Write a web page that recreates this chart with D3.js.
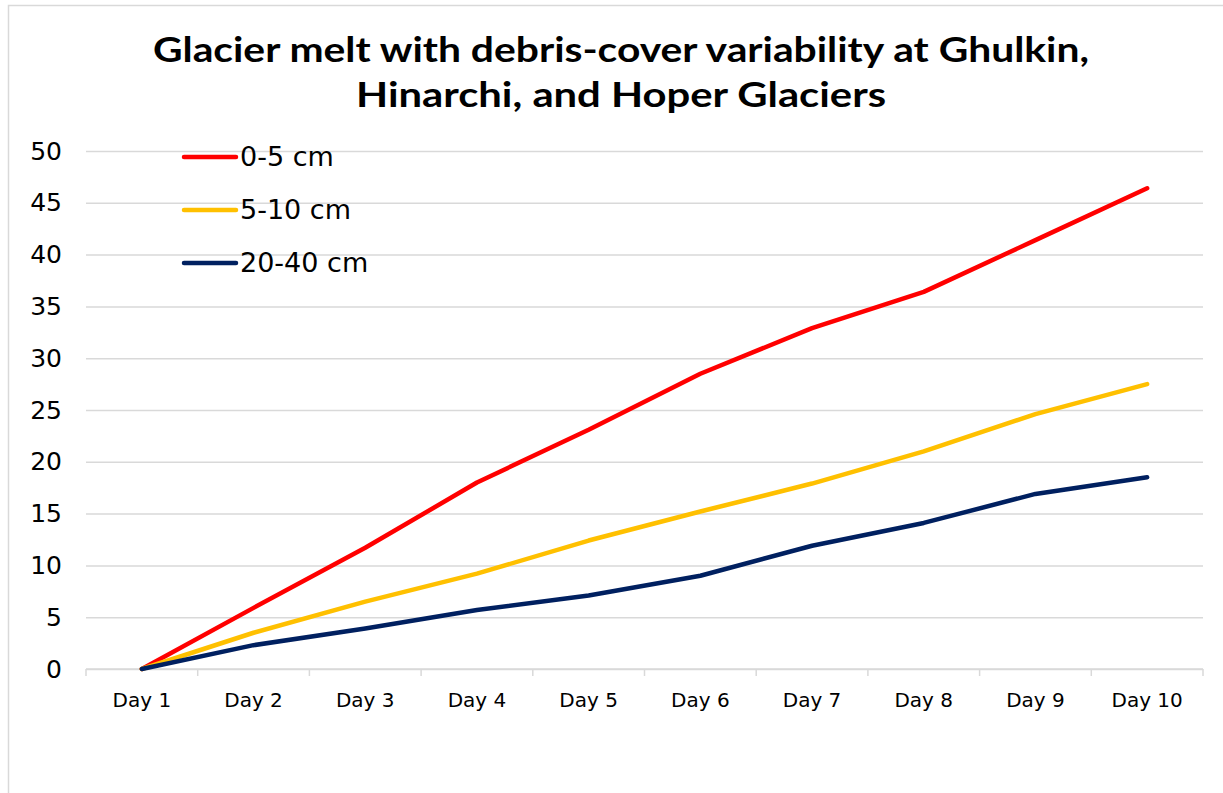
<!DOCTYPE html>
<html lang="en">
<head>
    <meta charset="UTF-8">
    <title>Glacier melt</title>
    <script src="https://d3js.org/d3.v7.min.js"></script>
    <style>
        body { margin: 0; background: #fff; }
        text { font-family: "DejaVu Sans", sans-serif; fill: #000; }
    </style>
</head>
<body>
    <div id="chart"></div>
    <script>
        // chart data
        var days = ["Day 1", "Day 2", "Day 3", "Day 4", "Day 5", "Day 6", "Day 7", "Day 8", "Day 9", "Day 10"];
        var seriesNames = ["0-5 cm", "5-10 cm", "20-40 cm"];
        var seriesColors = ["#ff0000", "#ffc000", "#002060"];
        var melt0to5 = [0, 5.9, 11.7, 18.0, 23.1, 28.5, 32.9, 36.4, 41.4, 46.4];
        var melt5to10 = [0, 3.5, 6.5, 9.2, 12.4, 15.2, 17.9, 21.0, 24.6, 27.5];
        var melt20to40 = [0, 2.3, 3.9, 5.7, 7.1, 9.0, 11.9, 14.1, 16.9, 18.5];
        var yTicks = [0, 5, 10, 15, 20, 25, 30, 35, 40, 45, 50];

        var allSeries = [melt0to5, melt5to10, melt20to40];

        var W = 1223, H = 793;
        var margin = {top: 151, right: 20, bottom: 124, left: 86};
        var width = 1203 - margin.left;
        var height = 669 - margin.top;

        var svg = d3.select("#chart")
            .append("svg")
            .attr("width", W)
            .attr("height", H);

        // outer chart border (runs off the right and bottom)
        svg.append("rect")
            .attr("x", 8.5).attr("y", 5.5)
            .attr("width", W + 20).attr("height", H + 20)
            .attr("fill", "none")
            .attr("stroke", "#d9d9d9")
            .attr("stroke-width", 1.5);

        // title
        var title = svg.append("text")
            .attr("text-anchor", "middle")
            .style("font-family", "Lato, sans-serif")
            .style("font-weight", "bold")
            .style("font-size", "35px");
        title.append("tspan").attr("x", 621).attr("y", 62)
            .attr("textLength", 936).attr("lengthAdjust", "spacingAndGlyphs")
            .text("Glacier melt with debris-cover variability at Ghulkin,");
        title.append("tspan").attr("x", 621).attr("y", 107)
            .attr("textLength", 530).attr("lengthAdjust", "spacingAndGlyphs")
            .text("Hinarchi, and Hoper Glaciers");

        var g = svg.append("g")
            .attr("transform", "translate(" + margin.left + "," + margin.top + ")");

        var x = d3.scaleBand().domain(days).range([0, width]);
        var y = d3.scaleLinear().domain([0, 50]).range([height, 0]);

        // gridlines
        g.append("g")
            .call(d3.axisLeft(y).tickValues(yTicks).tickSize(-width).tickFormat(""))
            .call(function(a) {
                a.select(".domain").remove();
                a.selectAll("line").attr("stroke", "#d9d9d9").attr("stroke-width", 1.5);
            });

        // y axis labels
        g.append("g")
            .call(d3.axisLeft(y).tickValues(yTicks).tickSize(0).tickPadding(24))
            .call(function(a) {
                a.select(".domain").remove();
                a.selectAll("text").style("font-size", "25px").attr("font-family", null);
            });

        // x axis: ticks at category boundaries
        var xAxis = g.append("g")
            .attr("transform", "translate(0," + height + ")");
        xAxis.append("line")
            .attr("x1", 0).attr("x2", width)
            .attr("stroke", "#d9d9d9").attr("stroke-width", 1.5);
        xAxis.selectAll(".bound")
            .data(d3.range(days.length + 1))
            .enter().append("line")
            .attr("x1", function(i) { return i * x.step(); })
            .attr("x2", function(i) { return i * x.step(); })
            .attr("y1", 0).attr("y2", 7)
            .attr("stroke", "#d9d9d9").attr("stroke-width", 1.5);
        xAxis.selectAll(".lbl")
            .data(days)
            .enter().append("text")
            .attr("x", function(d) { return x(d) + x.bandwidth() / 2; })
            .attr("y", 38)
            .attr("text-anchor", "middle")
            .style("font-size", "20px")
            .text(function(d) { return d; });

        // lines
        var line = d3.line()
            .x(function(d, i) { return x(days[i]) + x.bandwidth() / 2; })
            .y(function(d) { return y(d); });

        allSeries.forEach(function(s, k) {
            g.append("path")
                .datum(s)
                .attr("d", line)
                .attr("fill", "none")
                .attr("stroke", seriesColors[k])
                .attr("stroke-width", 4.5)
                .attr("stroke-linecap", "round")
                .attr("stroke-linejoin", "round");
        });

        // legend
        var legend = svg.append("g");
        seriesNames.forEach(function(name, k) {
            var ly = 157 + k * 53;
            legend.append("line")
                .attr("x1", 184).attr("x2", 236)
                .attr("y1", ly).attr("y2", ly)
                .attr("stroke", seriesColors[k])
                .attr("stroke-width", 4.5)
                .attr("stroke-linecap", "round");
            legend.append("text")
                .attr("x", 240).attr("y", ly + 9)
                .style("font-size", "27px")
                .text(name);
        });
    </script>
</body>
</html>
